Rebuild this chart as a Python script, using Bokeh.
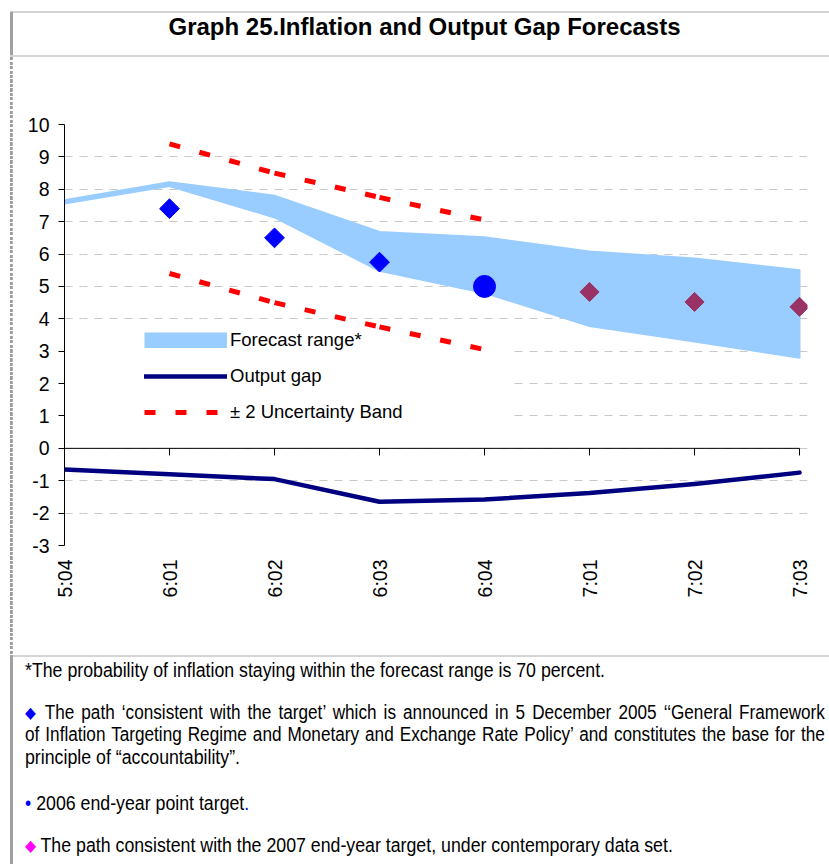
import math
from bokeh.plotting import figure
from bokeh.models import Range1d, FixedTicker, Legend, LegendItem, Div
from bokeh.layouts import column, row
from bokeh.embed import file_html
from bokeh.resources import INLINE

# ---------------- data ----------------
CATEGORIES = ["5:04", "6:01", "6:02", "6:03", "6:04", "7:01", "7:02", "7:03"]
RANGE_UPPER = [7.66, 8.22, 7.80, 6.68, 6.52, 6.08, 5.86, 5.50]
RANGE_LOWER = [7.56, 8.10, 7.13, 5.48, 4.80, 3.78, 3.30, 2.80]
OUTPUT_GAP = [-0.65, -0.80, -0.95, -1.65, -1.58, -1.38, -1.10, -0.75]

UNC_CATS = ["6:01", "6:02", "6:03", "6:04"]
UNC_UPPER = [9.40, 8.50, 7.75, 7.05]
UNC_LOWER = [5.40, 4.50, 3.75, 3.05]

TARGET_PATH_CATS = ["6:01", "6:02", "6:03"]
TARGET_PATH = [7.40, 6.50, 5.75]
POINT_TARGET_CATS = ["6:04"]
POINT_TARGET = [5.00]
PATH_2007_CATS = ["7:01", "7:02", "7:03"]
PATH_2007 = [4.83, 4.52, 4.37]

Y_TICKS = list(range(-3, 11))
Y_LABELS = [str(t) for t in Y_TICKS]

LEGEND_LABELS = ["Forecast range*", "Output gap", "\u00b1 2 Uncertainty Band"]

FONT = "Liberation Sans"

# ---------------- helpers ----------------
X = list(range(len(CATEGORIES)))
def xi(cats):
    return [CATEGORIES.index(c) for c in cats]

# ---------------- figure ----------------
p = figure(width=817, height=598,
           x_range=Range1d(0, 7.076), y_range=Range1d(-3, 10),
           output_backend="svg", toolbar_location=None,
           min_border_left=52, min_border_right=22,
           min_border_top=67, min_border_bottom=110,
           outline_line_color=None,
           background_fill_color="white", border_fill_color="white")

p.xgrid.visible = False
p.ygrid.ticker = FixedTicker(ticks=Y_TICKS)
p.ygrid.grid_line_color = "#c8c8c8"
p.ygrid.grid_line_dash = "8 7"
p.ygrid.grid_line_width = 1

yax = p.yaxis[0]
yax.ticker = FixedTicker(ticks=Y_TICKS)
yax.major_label_overrides = {t: l for t, l in zip(Y_TICKS, Y_LABELS)}
yax.axis_line_color = "black"
yax.axis_line_width = 1
yax.major_tick_out = 6
yax.major_tick_in = 0
yax.minor_tick_out = 0
yax.minor_tick_in = 0
yax.major_tick_line_color = "black"
yax.major_label_standoff = 9
yax.major_label_text_font = FONT
yax.major_label_text_font_size = "19.5px"
yax.major_label_text_color = "black"

xax = p.xaxis[0]
xax.ticker = FixedTicker(ticks=X)
xax.major_label_overrides = {i: c for i, c in zip(X, CATEGORIES)}
xax.axis_line_color = None
xax.major_tick_out = 0
xax.major_tick_in = 0
xax.minor_tick_out = 0
xax.minor_tick_in = 0
xax.major_label_orientation = math.pi / 2
xax.major_label_standoff = 14
xax.major_label_text_font = FONT
xax.major_label_text_font_size = "19.5px"
xax.major_label_text_color = "black"

# white legend background (hides gridlines behind legend)
p.quad(left=[0], right=[4.28], bottom=[0], top=[3.3],
       fill_color="white", line_color=None)

# forecast range band
band = p.patch(X + X[::-1], RANGE_UPPER + RANGE_LOWER[::-1],
               fill_color="#99CCFF", line_color="#99CCFF", line_width=2,
               line_join="round")
# legend key for the band: a 16px block drawn only in the legend (no visible points)
band_key = p.line(x=X, y=[float("nan")] * len(X), line_color="#99CCFF",
                  line_width=16, line_cap="butt")

# zero axis line with downward ticks
p.segment(x0=[X[0]], y0=[0], x1=[X[-1]], y1=[0], line_color="black", line_width=1)
p.segment(x0=X, y0=[0] * len(X), x1=X, y1=[-0.22] * len(X),
          line_color="black", line_width=1)

# uncertainty band (dash pattern restarts at each point)
ux = xi(UNC_CATS)
unc_up = p.segment(x0=ux[:-1], y0=UNC_UPPER[:-1], x1=ux[1:], y1=UNC_UPPER[1:],
                   line_color="#FF0000", line_width=5, line_dash="11 20")
p.segment(x0=ux[:-1], y0=UNC_LOWER[:-1], x1=ux[1:], y1=UNC_LOWER[1:],
          line_color="#FF0000", line_width=5, line_dash="11 20")

# output gap
og = p.line(X, OUTPUT_GAP, line_color="#000080", line_width=4.5,
            line_cap="round", line_join="round")

# markers
p.scatter(xi(TARGET_PATH_CATS), TARGET_PATH, marker="square", angle=math.pi / 4,
          size=14, fill_color="#0000FF", line_color="#0000FF")
p.scatter(xi(POINT_TARGET_CATS), POINT_TARGET, marker="circle", size=22,
          fill_color="#0000FF", line_color="#0000FF")
p.scatter(xi(PATH_2007_CATS), PATH_2007, marker="square", angle=math.pi / 4,
          size=13.5, fill_color="#993366", line_color="#993366")

legend = Legend(items=[LegendItem(label=LEGEND_LABELS[0], renderers=[band_key]),
                       LegendItem(label=LEGEND_LABELS[1], renderers=[og]),
                       LegendItem(label=LEGEND_LABELS[2], renderers=[unc_up])],
                location=(80, 122), orientation="vertical",
                glyph_width=83, glyph_height=16, label_standoff=3,
                spacing=14, padding=0, margin=0, label_height=22,
                background_fill_alpha=0, border_line_alpha=0,
                label_text_font=FONT, label_text_font_size="18.5px",
                label_text_color="black")
p.add_layout(legend)

# ---------------- title ----------------
title_html = (
    '<div style="position:relative;width:829px;height:57px;overflow:hidden;">'
    '<div style="position:absolute;left:10px;top:11px;width:819px;height:2px;background:#d4d4d4"></div>'
    '<div style="position:absolute;left:10px;top:12px;width:2.5px;height:45px;background:#a0a0a0"></div>'
    '<div style="position:absolute;left:10px;top:55px;width:819px;height:2px;background:#d4d4d4"></div>'
    '<div style="position:absolute;left:20px;top:14.7px;width:809px;text-align:center;'
    "font:bold 24px/24px 'Liberation Sans',Arial,sans-serif;color:#000;white-space:nowrap\">"
    'Graph 25.Inflation and Output Gap Forecasts</div>'
    '</div>')
title_div = Div(text=title_html, width=829, height=57, margin=0)

strip_html = (
    '<div style="position:relative;width:12px;height:598px;">'
    '<div style="position:absolute;left:10px;top:0;width:2.5px;height:598px;'
    'background:repeating-linear-gradient(to bottom,#9a9a9a 0px,#9a9a9a 3px,#ffffff 3px,#ffffff 4.5px)"></div>'
    '</div>')
strip_div = Div(text=strip_html, width=12, height=598, margin=0)

# ---------------- notes ----------------
SCALE = 0.91        # plain lines
JSCALE = 0.88       # justified lines (kept narrower so they never overflow)
LINE_STYLE = ("position:absolute;left:25px;top:{top}px;"
              "font:19.5px/19.5px 'Liberation Sans',Arial,sans-serif;color:#000;"
              "white-space:nowrap;transform:scaleX({sc});transform-origin:0 0;{extra}")
JUST = "width:" + str(round((825 - 25) / JSCALE)) + "px;text-align:justify;text-align-last:justify;"
DIAMOND = '<span style="color:{c};font-size:16px;vertical-align:1px">\u25c6</span>'

note_lines = [
    (5.5, SCALE, "", "*The probability of inflation staying within the forecast range is 70 percent."),
    (47.5, JSCALE, JUST, DIAMOND.format(c="#0000FF") +
     " The path \u2018consistent with the target\u2019 which is announced in 5 December 2005 \u2018\u2018General Framework"),
    (70.2, JSCALE, JUST, "of Inflation Targeting Regime and Monetary and Exchange Rate Policy\u2019 and constitutes the base for the"),
    (92.8, SCALE, "", "principle of \u201caccountability\u201d."),
    (138.8, SCALE, "", '<span style="color:#0000FF">\u2022</span> 2006 end-year point target<span style="color:#0000FF">.</span>'),
    (180.8, SCALE, "", DIAMOND.format(c="#FF00FF") +
     " The path consistent with the 2007 end-year target, under contemporary data set."),
]
notes_html = ('<div style="position:relative;width:829px;height:209px;overflow:hidden;">'
              '<div style="position:absolute;left:10px;top:0;width:819px;height:2px;background:#d4d4d4"></div>'
              '<div style="position:absolute;left:10px;top:0;width:2.5px;height:209px;background:#a0a0a0"></div>')
for top, sc, extra, txt in note_lines:
    notes_html += '<div style="' + LINE_STYLE.format(top=top, sc=sc, extra=extra) + '">' + txt + '</div>'
notes_html += '</div>'
notes_div = Div(text=notes_html, width=829, height=209, margin=0)

layout = column(title_div, row(strip_div, p, spacing=0), notes_div, spacing=0)

with open("out.html", "w") as f:
    f.write(file_html(layout, INLINE))
